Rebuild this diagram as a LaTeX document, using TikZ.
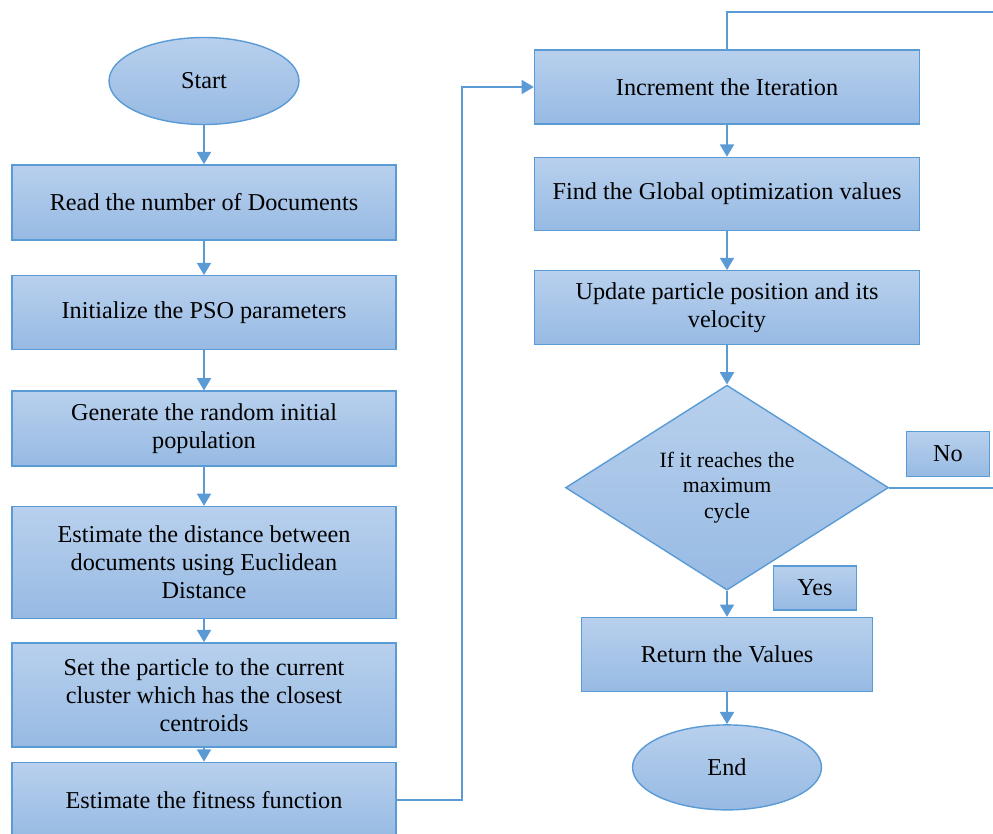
\documentclass[tikz,border=0pt]{standalone}
\usepackage{fontspec}
\setmainfont{Liberation Serif}
\usetikzlibrary{positioning,shapes.geometric,arrows.meta}

\definecolor{edgeblue}{RGB}{91,155,213}
\definecolor{filltop}{RGB}{184,208,237}
\definecolor{fillbot}{RGB}{151,186,227}

\tikzset{
  box/.style={draw=edgeblue, line width=0.8pt, top color=filltop, bottom color=fillbot,
    minimum width=7.68cm, minimum height=1.5cm, align=center,
    font=\fontsize{13.8}{16}\selectfont},
  term/.style={box, ellipse, minimum width=3.8cm, minimum height=1.74cm},
  decide/.style={box, diamond, aspect=1.58, minimum width=6.46cm, minimum height=4.1cm,
    inner sep=0pt, font=\fontsize{12.4}{14.5}\selectfont},
  tag/.style={box, minimum width=1.66cm, minimum height=0.9cm},
  flow/.style={edgeblue, line width=1.1pt, -{Triangle[width=8pt,length=7pt]}},
  link/.style={edgeblue, line width=1.1pt},
}

\begin{document}
\begin{tikzpicture}[x=0.02cm, y=-0.02cm]
\useasboundingbox (0,0) rectangle (993,834);
\clip (0,0) rectangle (993,834);

    \node [term] (start) at (204,81) {Start};
    \node [box, below=0.78cm of start] (read) {Read the number of Documents};
    \node [box, below=0.69cm of read, minimum height=1.48cm] (init) {Initialize the PSO parameters};
    \node [box, below=0.8cm of init] (gen) {Generate the random initial\\population};
    \node [box, below=0.78cm of gen, minimum height=2.24cm] (dist) {Estimate the distance between\\documents using Euclidean\\Distance};
    \node [box, below=0.46cm of dist, minimum height=2.08cm] (assign) {Set the particle to the current\\cluster which has the closest\\centroids};
    \node [box, below=0.28cm of assign, minimum height=1.52cm] (fit) {Estimate the fitness function};

    \node [box, minimum width=7.7cm, minimum height=1.48cm] (iter) at (727,87) {Increment the Iteration};
    \node [box, below=0.64cm of iter, minimum width=7.7cm, minimum height=1.46cm] (gbest) {Find the Global optimization values};
    \node [box, below=0.78cm of gbest, minimum width=7.7cm, minimum height=1.48cm] (upd) {Update particle position and its\\velocity};
    \node [decide, below=0.78cm of upd] (cond) {If it reaches the\\maximum\\cycle};
    \node [box, below=0.52cm of cond, minimum width=5.82cm, minimum height=1.48cm] (ret) {Return the Values};
    \node [term, below=0.64cm of ret, minimum width=3.78cm, minimum height=1.7cm] (stop) {End};

    \node [tag] (no) at (948,454) {No};
    \node [tag, minimum height=0.88cm] (yes) at (815,588) {Yes};

    \coordinate (noend) at (1010,487);
    \coordinate (topend) at (1010,12);

    \draw [flow] (start) -- (read);
    \draw [flow] (read) -- (init);
    \draw [flow] (init) -- (gen);
    \draw [flow] (gen) -- (dist);
    \draw [flow] (dist) -- (assign);
    \draw [flow] (assign) -- (fit);
    \draw [flow] (fit.east) -| ([xshift=-1.44cm]iter.west) -- (iter.west);
    \draw [flow] (iter) -- (gbest);
    \draw [flow] (gbest) -- (upd);
    \draw [flow] (upd) -- (cond);
    \draw [flow] (cond) -- (ret);
    \draw [flow] (ret) -- (stop);
    \draw [link] (cond.east) -- (cond.east -| noend);
    \draw [link] (iter.north) |- (topend);

\end{tikzpicture}
\end{document}
